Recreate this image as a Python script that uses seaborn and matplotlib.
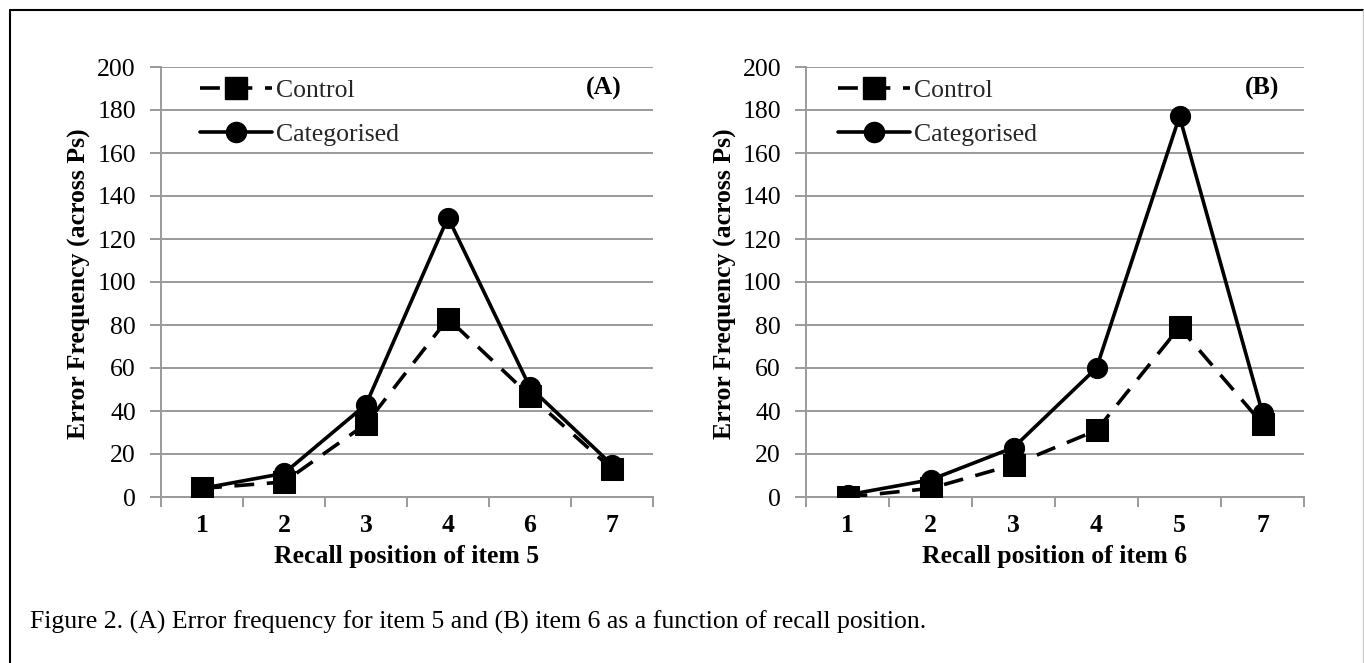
import matplotlib
matplotlib.use("Agg")
import matplotlib.pyplot as plt
from matplotlib.lines import Line2D
import seaborn as sns
import pandas as pd

# ---- data ----
cats_a = ["1", "2", "3", "4", "6", "7"]
control_a = [4, 7, 34, 83, 47, 13]
categorised_a = [4, 11, 43, 130, 51, 15]

cats_b = ["1", "2", "3", "4", "5", "7"]
control_b = [0, 4, 15, 31, 79, 34]
categorised_b = [1, 8, 23, 60, 177, 39]

series_names = ["Control", "Categorised"]
xlabels = ["Recall position of item 5", "Recall position of item 6"]
panel_labels = ["(A)", "(B)"]
ylabel = "Error Frequency (across Ps)"
caption = ("Figure 2. (A) Error frequency for item 5 and (B) item 6 as a function "
           "of recall position.")
yticks = [0, 20, 40, 60, 80, 100, 120, 140, 160, 180, 200]

sns.set_theme(style="white")
plt.rcParams["font.family"] = ["Liberation Serif", "DejaVu Serif"]

W, H = 1364, 663
fig = plt.figure(figsize=(W / 100, H / 100), dpi=100)

FS = 18.5
GRID = "#9a9a9a"
dash = (0, (5.5, 3.5))

ax_a = fig.add_axes([161 / W, (H - 497) / H, (653 - 161) / W, 430 / H])
ax_b = fig.add_axes([806 / W, (H - 497) / H, (1304 - 806) / W, 430 / H])

panels = [
    (ax_a, cats_a, control_a, categorised_a, 0.079, 0.937, -0.142),
    (ax_b, cats_b, control_b, categorised_b, 0.064, 0.950, -0.139),
]

for i, (ax, cats, ctrl, catg, leg_x, lab_x, ylab_x) in enumerate(panels):
    df_c = pd.DataFrame({"pos": cats, "freq": ctrl})
    df_g = pd.DataFrame({"pos": cats, "freq": catg})
    sns.lineplot(data=df_c, x="pos", y="freq", ax=ax, sort=False, color="black",
                 marker="s", markersize=16, markeredgecolor="black",
                 linewidth=2.6, linestyle=dash, zorder=3)
    sns.lineplot(data=df_g, x="pos", y="freq", ax=ax, sort=False, color="black",
                 marker="o", markersize=14.5, markeredgecolor="black",
                 linewidth=2.6, linestyle="-", zorder=4)

    ax.set_ylim(0, 200)
    ax.set_xlim(-0.5, len(cats) - 0.5)
    ax.set_yticks(yticks)
    ax.set_xticks(range(len(cats)))
    ax.set_xticklabels(cats, fontweight="bold")
    ax.set_xticks([k - 0.5 for k in range(len(cats) + 1)], minor=True)
    ax.tick_params(axis="x", which="major", length=0, pad=12, labelsize=FS,
                   labelcolor="black")
    ax.tick_params(axis="x", which="minor", length=7, width=1.4, color=GRID,
                   direction="out", bottom=True)
    ax.tick_params(axis="y", which="major", length=8, width=1.4, color=GRID,
                   direction="out", left=True, pad=10, labelsize=FS,
                   labelcolor="black")
    ax.grid(axis="y", color=GRID, linewidth=1.4, zorder=0)
    ax.grid(axis="x", visible=False)
    ax.set_axisbelow(True)
    for s in ["top", "right"]:
        ax.spines[s].set_visible(False)
    for s in ["left", "bottom"]:
        ax.spines[s].set_color(GRID)
        ax.spines[s].set_linewidth(1.4)

    ax.set_xlabel(xlabels[i], fontsize=FS, fontweight="bold", color="black")
    ax.xaxis.set_label_coords(0.5, -0.112)
    ax.set_ylabel(ylabel, fontsize=FS, fontweight="bold", color="black")
    ax.yaxis.set_label_coords(ylab_x, 0.497)

    ax.text(lab_x, 0.951, panel_labels[i], transform=ax.transAxes, ha="right",
            va="center", fontsize=FS, fontweight="bold", color="black")

    handles = [
        Line2D([], [], color="black", linewidth=2.6, linestyle=dash, marker="s",
               markersize=16),
        Line2D([], [], color="black", linewidth=2.6, linestyle="-", marker="o",
               markersize=14.5),
    ]
    ax.legend(handles, series_names, loc="upper left",
              bbox_to_anchor=(leg_x, 0.972), frameon=False, fontsize=FS,
              handlelength=2.8, handletextpad=0.16, labelspacing=0.83,
              borderpad=0, borderaxespad=0)

fig.text(30 / W, 1 - 622 / H, caption, ha="left", va="center", fontsize=FS,
         color="black")

# outer frame
fig.add_artist(Line2D([9.5 / W, 9.5 / W], [0, 1 - 9.5 / H], transform=fig.transFigure,
                      color="black", linewidth=1.5))
fig.add_artist(Line2D([9.5 / W, 1363 / W], [1 - 9.5 / H, 1 - 9.5 / H],
                      transform=fig.transFigure, color="black", linewidth=1.5))
fig.add_artist(Line2D([1363 / W, 1363 / W], [0, 1 - 9.5 / H], transform=fig.transFigure,
                      color="#cccccc", linewidth=1.0))

fig.savefig("out.png", dpi=100)
